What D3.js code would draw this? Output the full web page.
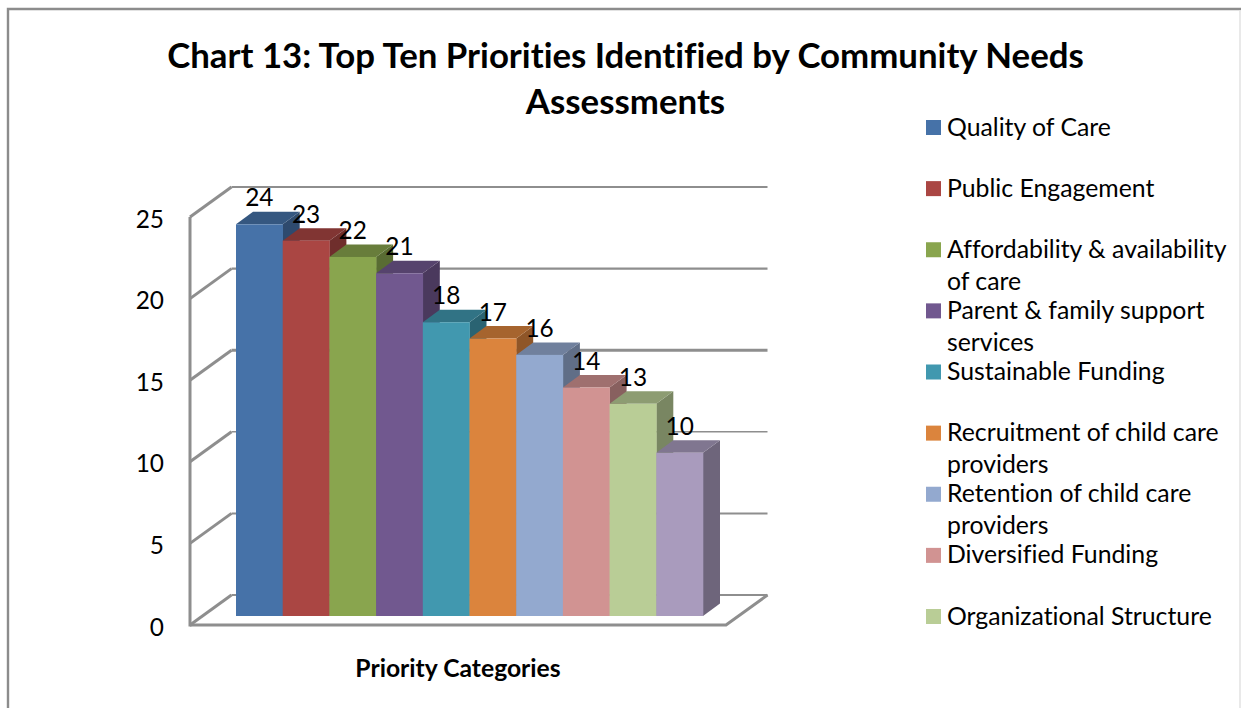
<!DOCTYPE html>
<html>
<head>
<meta charset="utf-8">
<script src="https://cdn.jsdelivr.net/npm/d3@7/dist/d3.min.js"></script>
<style>
html, body { margin: 0; padding: 0; background: #fff; overflow: hidden; }
svg { display: block; font-family: Lato, "Noto Sans", sans-serif; font-variant-ligatures: none; }
</style>
</head>
<body>
<svg id="chart" width="1241" height="708"></svg>
<script>
const titleLines = ["Chart 13: Top Ten Priorities Identified by Community Needs", "Assessments"];
const axisTitle = "Priority Categories";
const values = [24, 23, 22, 21, 18, 17, 16, 14, 13, 10];
const barColors = ["#4672A8", "#AA4643", "#89A54E", "#71588F", "#4198AF", "#DB843D", "#93A9CF", "#D19392", "#B9CD96", "#A99BBD"];
const axisTicks = [0, 5, 10, 15, 20, 25];
const legendRows = [
  ["Quality of Care"],
  ["Public Engagement"],
  ["Affordability & availability", "of care"],
  ["Parent & family support", "services"],
  ["Sustainable Funding"],
  ["Recruitment of child care", "providers"],
  ["Retention of child care", "providers"],
  ["Diversified Funding"],
  ["Organizational Structure"]
];

const svg = d3.select("#chart");
const gridColor = "#8e8e8e";
const labelSize = 24.4;
const legendSize = 24.8;

// Value scale measured on the front face of the bars, category scale along their base.
const y = d3.scaleLinear().domain([0, 25]).range([616, 208]);
const x = d3.scaleBand().domain(d3.range(values.length)).range([236, 703]).padding(0);

// Offsets for the box walls and for the extruded bar depth.
const wall = { dx: 41.5, dy: -30, front: 625, left: 190, right: 726 };
const wallY = d3.scaleLinear().domain([0, 25]).range([wall.front, wall.front - 408]);
const depth = { dx: 17, dy: -12.5 };

// Outer frame of the chart area: darker top and left, faint right edge.
svg.append("path").attr("d", "M8,708V9H1241")
  .attr("fill", "none").attr("stroke", "#8c8c8c").attr("stroke-width", 2.4);
svg.append("path").attr("d", "M1240,10V708")
  .attr("fill", "none").attr("stroke", "#e2e2e2").attr("stroke-width", 1.5);

// Back wall gridlines and left wall slants.
const walls = svg.append("g").attr("fill", "none").attr("stroke", gridColor);
const gridWidths = { 0: 2, 5: 2, 10: 1.5, 15: 3, 20: 2.2, 25: 1.8 };
walls.selectAll("path.grid").data(axisTicks).join("path")
  .attr("class", "grid")
  .attr("stroke-width", d => gridWidths[d])
  .attr("d", d => d3.line()([
    [wall.left + wall.dx, wallY(d) + wall.dy],
    [wall.right + wall.dx, wallY(d) + wall.dy]
  ]));
walls.selectAll("path.slant").data(axisTicks).join("path")
  .attr("class", "slant")
  .attr("stroke-width", 3)
  .attr("d", d => d3.line()([
    [wall.left, wallY(d)],
    [wall.left + wall.dx, wallY(d) + wall.dy]
  ]));

// Floor front edge and its right-hand slant, then the vertical axis.
walls.append("path").attr("stroke-width", 3)
  .attr("d", d3.line()([
    [wall.left, wall.front],
    [wall.right, wall.front],
    [wall.right + wall.dx, wall.front + wall.dy]
  ]));
walls.append("path").attr("stroke-width", 3)
  .attr("d", d3.line()([[wall.left, wallY(25)], [wall.left, wall.front + 1.5]]));

// Axis tick labels.
svg.append("g").selectAll("text").data(axisTicks).join("text")
  .attr("x", 164)
  .attr("y", d => wallY(d) + 10.5)
  .attr("text-anchor", "end")
  .attr("font-size", labelSize)
  .attr("fill", "#000")
  .text(d => d);

// Extruded bars, painted left to right so each one overlaps its neighbour's side.
const bars = svg.append("g").selectAll("g").data(values).join("g");
bars.append("path")
  .attr("fill", (d, i) => d3.rgb(barColors[i]).darker(1.2).formatHex())
  .attr("d", (d, i) => {
    const r = x(i) + x.bandwidth();
    return d3.line()([[r, y(d)], [r + depth.dx, y(d) + depth.dy], [r + depth.dx, y(0) + depth.dy], [r, y(0)]]) + "Z";
  });
bars.append("path")
  .attr("fill", (d, i) => d3.rgb(barColors[i]).darker(0.77).formatHex())
  .attr("d", (d, i) => {
    const l = x(i), r = l + x.bandwidth();
    return d3.line()([[l, y(d)], [l + depth.dx, y(d) + depth.dy], [r + depth.dx, y(d) + depth.dy], [r, y(d)]]) + "Z";
  });
bars.append("rect")
  .attr("x", (d, i) => x(i))
  .attr("y", d => y(d))
  .attr("width", x.bandwidth() + 0.3)
  .attr("height", d => y(0) - y(d))
  .attr("fill", (d, i) => barColors[i]);

// Value labels above each bar.
svg.append("g").selectAll("text").data(values).join("text")
  .attr("x", (d, i) => x(i) + x.bandwidth() / 2)
  .attr("y", d => y(d) - 18)
  .attr("text-anchor", "middle")
  .attr("font-size", labelSize)
  .attr("fill", "#000")
  .text(d => d);

// Chart title and category axis title.
svg.append("g").selectAll("text").data(titleLines).join("text")
  .attr("x", 625.5)
  .attr("y", (d, i) => 67.5 + i * 46)
  .attr("text-anchor", "middle")
  .attr("font-size", 34.8)
  .attr("font-weight", 700)
  .attr("fill", "#000")
  .text(d => d);
svg.append("text")
  .attr("x", 458)
  .attr("y", 677)
  .attr("text-anchor", "middle")
  .attr("font-size", 24.7)
  .attr("font-weight", 700)
  .attr("fill", "#000")
  .text(axisTitle);

// Legend: evenly spaced rows, with long names wrapped onto a second line.
const legendY = d3.scalePoint().domain(d3.range(legendRows.length)).range([127.5, 616.5]);
const legend = svg.append("g").selectAll("g").data(legendRows).join("g")
  .attr("transform", (d, i) => `translate(926,${legendY(i)})`);
legend.append("rect")
  .attr("y", -7.5)
  .attr("width", 15)
  .attr("height", 15)
  .attr("fill", (d, i) => barColors[i]);
legend.selectAll("text").data(d => d).join("text")
  .attr("x", 21)
  .attr("y", (d, i) => 8 + i * 32)
  .attr("font-size", legendSize)
  .attr("fill", "#000")
  .text(d => d);
</script>
</body>
</html>
